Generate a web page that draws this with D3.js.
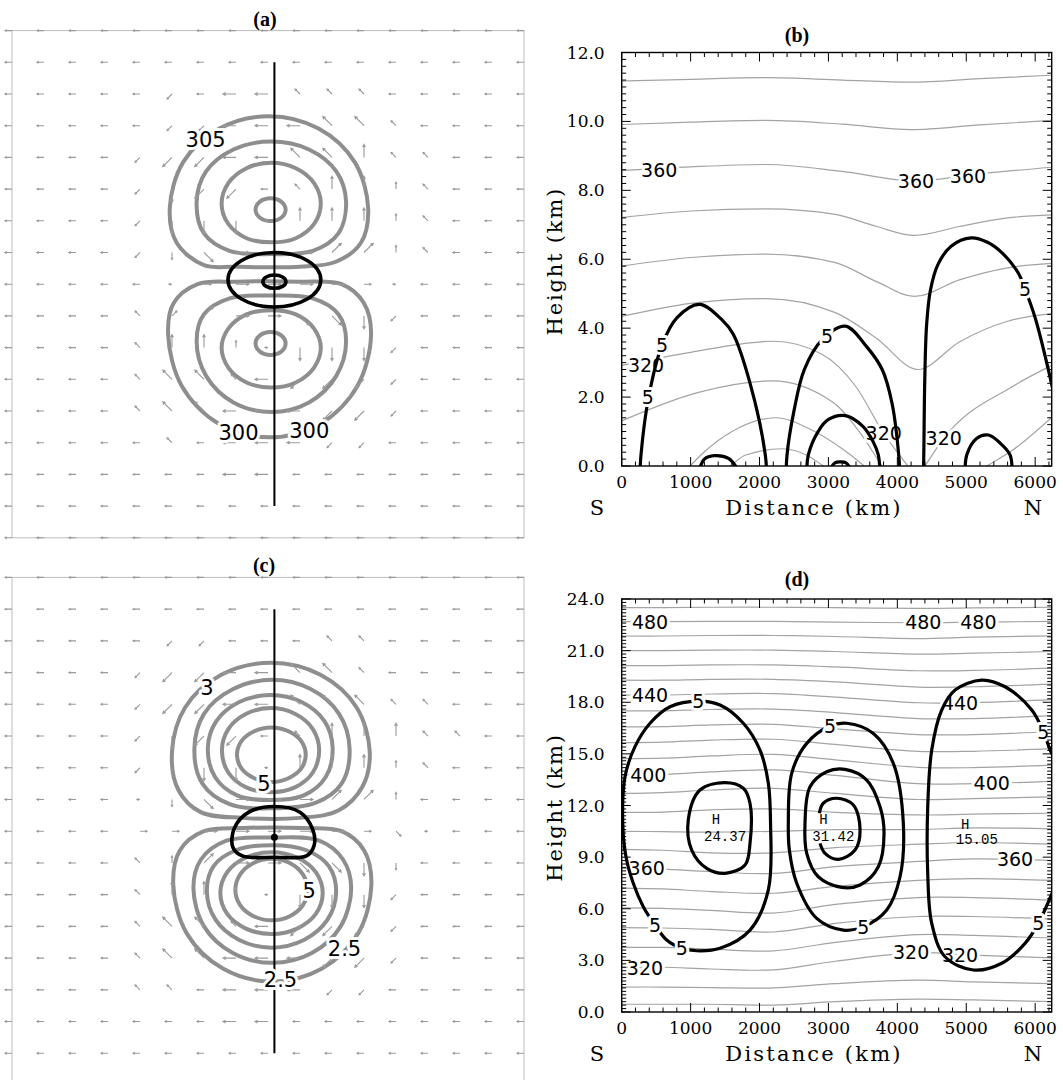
<!DOCTYPE html>
<html>
<head>
<meta charset="utf-8">
<script src="https://cdn.jsdelivr.net/npm/d3@7"></script>
<style>
  body { margin: 0; background: #fff; }
  svg { display: block; }
</style>
</head>
<body>
<svg id="fig" width="1063" height="1080"></svg>
<script>
(function () {
  'use strict';

  // ---------- plan views (a), (c): grid units, 16 x 16 cells ----------
  const aGray = [
    [[4.93,5.6],[5.35,4.15],[6.48,3.09],[8.03,2.7],[9.58,3.09],[10.71,4.15],[11.13,5.6],[10.9,6.7],[10.1,7.3],[9.0,7.45],[7.0,7.45],[6.0,7.4],[5.15,6.7]],
    [[5.77,5.4],[6.06,4.45],[6.92,3.75],[8.1,3.5],[9.28,3.75],[10.14,4.45],[10.44,5.4],[10.2,6.4],[9.4,6.95],[8.1,7.05],[6.8,6.95],[6.0,6.4]],
    [[6.55,5.45],[6.76,4.81],[7.33,4.34],[8.1,4.17],[8.87,4.34],[9.44,4.81],[9.65,5.45],[9.44,6.1],[8.87,6.55],[8.1,6.68],[7.33,6.55],[6.76,6.1]],
    [[11.22,9.6],[10.8,11.2],[9.64,12.4],[8.05,12.83],[6.46,12.4],[5.3,11.2],[4.88,9.6],[5.05,8.6],[5.8,8.0],[7.0,7.92],[9.0,7.92],[10.3,8.0],[11.0,8.6]],
    [[10.44,9.8],[10.13,10.9],[9.28,11.73],[8.1,12.03],[6.92,11.73],[6.07,10.9],[5.77,9.8],[6.0,8.95],[6.8,8.45],[8.1,8.36],[9.4,8.45],[10.2,8.95]],
    [[9.65,10.0],[9.44,10.63],[8.87,11.1],[8.1,11.26],[7.33,11.1],[6.76,10.63],[6.55,10.0],[6.76,9.4],[7.33,8.95],[8.1,8.82],[8.87,8.95],[9.44,9.4]]
  ];
  const aGrayEll = [[8.08,5.65,0.47,0.36],[8.08,9.87,0.47,0.36]];
  const aBlackEll = [[8.2,7.86,1.45,0.86],[8.2,7.92,0.36,0.21]];
  const aLabels = [['305',6.05,3.45],['300',7.08,12.69],['300',9.29,12.63]];
  const aVec = [
    'aaaaaaaaaaaaaaaaa',
    'aaaaaaaaaaaaaaaaa',
    'aaaaahaAAbbbaaaaa',
    'aaaaahhAAABBbaaaa',
    'aaaahHHAABBCbbaaa',
    'aaaahGHHabCCcbaaa',
    'aaaahGGG.CCCcbaaa',
    'aaaahgFEEEDDcbaaa',
    'aaaaa.eEEEEe.aaaa',
    'aaaabdDEEFFGhaaaa',
    'aaaabCCc.GGGhaaaa',
    'aaaabBBbAHHHhaaaa',
    'aaaabBBAAAHHhaaaa',
    'aaaaabaAAAhhaaaaa',
    'aaaaaaaAAaaaaaaaa',
    'aaaaaaaaaaaaaaaaa',
    'aaaaaaaaaaaaaaaaa'
  ];

  const cGray = [
    [[5.0,5.5],[5.41,4.1],[6.54,3.07],[8.09,2.69],[9.64,3.07],[10.77,4.1],[11.18,5.5],[10.95,6.6],[10.2,7.35],[9.0,7.58],[7.2,7.58],[5.9,7.4],[5.2,6.7]],
    [[5.7,5.4],[6.0,4.3],[6.91,3.52],[8.12,3.23],[9.33,3.52],[10.22,4.3],[10.55,5.4],[10.3,6.5],[9.5,7.1],[8.12,7.28],[6.8,7.15],[5.95,6.5]],
    [[6.12,5.37],[6.38,4.54],[7.1,3.93],[8.07,3.71],[9.05,3.93],[9.77,4.54],[10.02,5.37],[9.8,6.3],[9.1,6.88],[8.07,7.02],[7.05,6.88],[6.35,6.3]],
    [[6.56,5.45],[6.76,4.78],[7.32,4.3],[8.08,4.12],[8.84,4.3],[9.4,4.78],[9.6,5.45],[9.4,6.15],[8.84,6.62],[8.08,6.77],[7.32,6.62],[6.76,6.15]],
    [[7.03,5.59],[7.17,5.16],[7.57,4.85],[8.1,4.73],[8.64,4.85],[9.04,5.16],[9.18,5.59],[9.04,6.02],[8.64,6.33],[8.1,6.45],[7.57,6.33],[7.17,6.02]],
    [[11.23,9.7],[10.82,11.22],[9.69,12.33],[8.14,12.74],[6.59,12.33],[5.46,11.22],[5.04,9.7],[5.25,8.6],[6.0,8.0],[7.2,7.9],[9.1,7.9],[10.3,8.0],[11.0,8.6]],
    [[10.6,9.8],[10.27,11.0],[9.37,11.84],[8.13,12.15],[6.9,11.84],[6.0,11.0],[5.67,9.8],[5.9,8.9],[6.7,8.3],[8.13,8.2],[9.6,8.3],[10.35,8.9]],
    [[10.13,9.9],[9.86,10.79],[9.12,11.43],[8.11,11.67],[7.1,11.43],[6.36,10.79],[6.09,9.9],[6.3,9.1],[7.0,8.6],[8.11,8.44],[9.2,8.6],[9.9,9.1]],
    [[9.71,9.95],[9.5,10.6],[8.91,11.07],[8.11,11.24],[7.31,11.07],[6.72,10.6],[6.51,9.95],[6.72,9.3],[7.31,8.83],[8.11,8.66],[8.91,8.83],[9.5,9.3]],
    [[9.24,9.84],[9.09,10.33],[8.68,10.68],[8.11,10.81],[7.55,10.68],[7.13,10.33],[6.98,9.84],[7.13,9.36],[7.55,9.0],[8.11,8.87],[8.68,9.0],[9.09,9.36]]
  ];
  const cBlack = [
    [[6.9,8.5],[6.95,7.9],[7.4,7.4],[8.2,7.22],[9.0,7.4],[9.4,7.95],[9.44,8.45],[9.2,8.78],[8.2,8.82],[7.2,8.78]]
  ];
  const cDot = [8.2, 8.19];
  const cLabels = [['3',6.09,3.5],['5',7.87,6.5],['5',9.29,9.89],['2.5',10.39,11.72],['2.5',8.39,12.69]];
  const cVec = [
    'aaaaaaaaaaaaaaaaa',
    'aaaaaaaaaaaaaaaaa',
    'aaaaahhaaabbaaaaa',
    'aaaahHHAABBbaaaaa',
    'aaaahHHAABBBbbaaa',
    'aaaahGHHabCCCbbaa',
    'aaaahgGG.CCCcbaaa',
    'aaaa.gFEEEDDcaaaa',
    'aaaaeeEEEEEef.aaa',
    'aaaabcDEEFFGgaaaa',
    'aaaabCCc.GGGhaaaa',
    'aaaabBBbAHHHhaaaa',
    'aaaabBBAAAHHhaaaa',
    'aaaabbaAAAhhaaaaa',
    'aaaaaaaAAaaaaaaaa',
    'aaaaaaaaaaaaaaaaa',
    'aaaaaaaaaaaaaaaaa'
  ];

  // ---------- cross sections (b), (d): x in km, heights in km ----------
  const xTicks = [0, 1000, 2000, 3000, 4000, 5000, 6000];

  const bTheta = [380, 370, 360, 350, 340, 330, 320, 310, 300, 290];
  const bIsen = [
    [[0,11.17],[1000,11.22],[2100,11.27],[3200,11.2],[4200,11.14],[5200,11.24],[6240,11.34]],
    [[0,9.91],[1000,9.98],[2100,10.03],[3200,9.92],[4200,9.76],[5200,9.9],[6240,10.03]],
    [[0,8.57],[1000,8.68],[2100,8.75],[3200,8.55],[4250,8.27],[5200,8.48],[6240,8.67]],
    [[0,7.21],[1000,7.4],[2100,7.46],[3100,7.3],[3700,6.95],[4250,6.69],[4900,6.95],[5600,7.2],[6240,7.29]],
    [[0,5.8],[1000,6.05],[2100,6.15],[3100,5.9],[3700,5.35],[4250,4.92],[4900,5.4],[5600,5.75],[6240,5.88]],
    [[0,4.34],[1000,4.72],[2100,4.86],[3100,4.45],[3700,3.7],[4300,2.8],[4900,3.6],[5600,4.2],[6240,4.42]],
    [[0,2.92],[1000,3.3],[2200,3.62],[2900,3.25],[3400,2.3],[3800,0.95],[4150,0],[4280,-0.35],[4400,0],[4673,0.8],[5665,2.3],[6240,2.92]],
    [[0,1.31],[1100,2.13],[2180,2.47],[3070,1.84],[3500,0.85],[3780,0],[4500,-1.2],[5300,0],[5665,0.45],[6240,1.41]],
    [[700,-0.5],[990,0],[1150,0.32],[1600,1.0],[2230,1.4],[2800,1.0],[3200,0.5],[3520,0],[3800,-0.5]],
    [[1300,-0.3],[1570,0],[1800,0.32],[2330,0.5],[2700,0.3],[2930,0],[3200,-0.3]]
  ];
  const bGrayLabels = [['360',545,8.6],['360',4270,8.27],['360',5025,8.42],['320',353,2.92],['320',3802,0.95],['320',4673,0.8]];
  const bBlack = [
    [[262,-0.4],[280,0.32],[392,2.01],[585,3.51],[800,4.3],[1130,4.69],[1456,4.24],[1617,3.83],[1860,2.42],[2084,0.32],[2105,-0.4]],
    [[2385,-0.4],[2399,0.32],[2500,1.6],[2650,2.8],[2907,3.66],[3245,4.06],[3560,3.45],[3780,2.8],[3923,1.82],[4020,0.32],[4040,-0.4]],
    [[4378,-0.4],[4385,0.5],[4398,2.5],[4425,4.1],[4480,5.1],[4590,5.85],[4780,6.38],[5073,6.62],[5300,6.5],[5512,6.2],[5755,5.6],[5852,5.14],[6000,4.3],[6240,2.37],[6320,1.6]],
    [[2685,-0.3],[2708,0.32],[2850,1.0],[3000,1.35],[3245,1.46],[3500,1.15],[3650,0.7],[3724,0.32],[3750,-0.3]],
    [[4985,-0.2],[5007,0.32],[5150,0.8],[5321,0.9],[5500,0.65],[5636,0.32],[5665,-0.2]],
    [[1120,-0.15],[1200,0.2],[1349,0.3],[1550,0.22],[1700,-0.15]],
    [[3020,-0.1],[3100,0.1],[3175,0.12],[3250,0.1],[3330,-0.1]]
  ];
  const bBlackLabels = [['5',585,3.51],['5',380,1.99],['5',2980,3.77],['5',5852,5.14]];

  const dKnots = [0, 600, 1300, 2200, 3100, 4300, 5100, 6240];
  const dTheta = [304,312,320,328,336,344,352,360,368,376,384,392,400,408,416,424,432,440,448,456,464,472,480,488];
  const dIsen = [
    [0.45,0.45,0.45,0.4,0.6,0.75,0.7,0.6],
    [1.45,1.45,1.42,1.4,1.65,1.85,1.75,1.65],
    [2.6,2.6,2.5,2.45,2.95,3.45,3.3,3.15],
    [3.75,3.75,3.65,3.55,4.05,4.5,4.45,4.3],
    [4.9,4.88,4.8,4.65,5.15,5.55,5.55,5.4],
    [6.05,6.02,5.9,5.75,6.25,6.65,6.65,6.5],
    [7.2,7.15,7.0,6.9,7.3,7.65,7.75,7.65],
    [8.35,8.3,8.15,8.05,8.45,8.75,8.9,8.8],
    [9.45,9.4,9.25,9.25,9.55,9.75,9.85,9.75],
    [10.5,10.48,10.45,10.5,10.6,10.6,10.7,10.65],
    [11.6,11.62,11.75,11.8,11.6,11.45,11.5,11.55],
    [12.7,12.75,12.9,13.0,12.7,12.35,12.4,12.5],
    [13.77,13.8,13.95,14.07,13.75,13.27,13.27,13.4],
    [14.72,14.75,14.88,14.97,14.65,14.22,14.2,14.35],
    [15.65,15.68,15.8,15.85,15.55,15.15,15.15,15.3],
    [16.57,16.58,16.68,16.72,16.45,16.12,16.12,16.3],
    [17.5,17.5,17.58,17.6,17.4,17.05,17.05,17.22],
    [18.42,18.42,18.48,18.5,18.3,17.97,17.98,18.15],
    [19.28,19.28,19.33,19.33,19.18,18.88,18.9,19.05],
    [20.13,20.13,20.17,20.17,20.05,19.83,19.85,19.98],
    [21.0,21.0,21.03,21.03,20.95,20.8,20.85,20.95],
    [21.85,21.85,21.88,21.88,21.82,21.7,21.78,21.86],
    [22.68,22.68,22.7,22.7,22.66,22.62,22.65,22.7],
    [23.5,23.5,23.52,23.52,23.5,23.45,23.48,23.52]
  ];
  const dGrayLabels = [
    ['480',411,22.68],['480',4377,22.68],['480',5176,22.68],
    ['440',411,18.42],['440',4910,17.94],
    ['400',386,13.77],['400',5370,13.29],
    ['360',363,8.35],['360',5708,8.87],
    ['320',338,2.54],['320',4200,3.5],['320',4910,3.31]
  ];
  const dBlackClosed = [
    [[15,10.96],[48,13.67],[193,15.42],[411,16.78],[701,17.74],[1112,18.07],[1427,17.84],[1765,16.78],[2007,15.22],[2128,13.29],[2160,10.96],[2128,7.1],[1862,4.76],[1427,3.7],[1088,3.56],[871,3.7],[653,4.18],[483,5.06],[313,6.12],[168,7.48],[62,9.02]],
    [[966,11.16],[1136,12.9],[1500,13.33],[1765,13.0],[1862,12.13],[1862,9.8],[1790,8.54],[1500,8.06],[1234,8.35],[1016,9.41]],
    [[2418,10.96],[2467,13.87],[2685,15.61],[3023,16.62],[3266,16.78],[3652,16.19],[3942,14.45],[4087,10.96],[4039,7.86],[3846,5.93],[3507,4.96],[3216,4.76],[2830,5.44],[2540,7.48],[2433,9.41]],
    [[2660,10.96],[2733,13.09],[2975,13.96],[3241,14.1],[3556,13.48],[3749,11.93],[3807,10.38],[3724,8.44],[3459,7.38],[3193,7.24],[2853,7.86],[2685,9.22]]
  ];
  const dBlackOpen = [
    [[2868,11.55],[2926,12.13],[3120,12.42],[3362,12.03],[3459,10.58],[3386,9.41],[3144,8.87],[2951,9.22],[2878,9.8]],
    [[6380,14.2],[6240,15.03],[6119,16.29],[5951,17.55],[5563,18.9],[5225,19.29],[4838,18.71],[4644,17.55],[4499,15.22],[4441,11.93],[4441,8.06],[4499,5.15],[4692,3.21],[5103,2.44],[5515,2.83],[5853,3.99],[6046,5.15],[6264,7.09],[6380,8.3]]
  ];
  const dBlackLabels = [['5',1112,18.07],['5',483,5.06],['5',871,3.7],['5',3023,16.62],['5',3507,4.96],['5',6119,16.29],['5',6046,5.15]];
  const dHighs = [['24.37',1369,11.16,1500,10.19],['31.42',2926,11.16,3071,10.19],['15.05',4983,10.87,5153,9.99]];

  // ---------- drawing ----------
  const svg = d3.select('#fig');
  svg.append('rect').attr('width', 1063).attr('height', 1080).attr('fill', '#fff');

  const SANS = 'DejaVu Sans, sans-serif';
  const SERIF = 'DejaVu Serif, serif';
  const DIR = { a: 180, b: 135, c: 90, d: 45, e: 0, f: -45, g: -90, h: -135 };

  function halo(sel, size, family) {
    return sel.attr('text-anchor', 'middle').attr('dominant-baseline', 'central')
      .attr('font-family', family).attr('font-size', size)
      .attr('stroke', '#fff').attr('stroke-width', 6).attr('paint-order', 'stroke')
      .attr('stroke-linejoin', 'round').attr('fill', '#000');
  }

  function title(txt, x, y) {
    svg.append('text').attr('x', x).attr('y', y)
      .attr('text-anchor', 'middle').attr('dominant-baseline', 'central')
      .attr('font-family', 'Liberation Serif, serif').attr('font-weight', 'bold')
      .attr('font-size', 20).text(txt);
  }

  function drawPlan(cfg) {
    const x = d3.scaleLinear().domain([0, 16]).range([12, 524]);
    const y = d3.scaleLinear().domain([0, 16]).range(cfg.yRange);
    const g = svg.append('g');

    g.append('rect').attr('x', x(0)).attr('y', y(0))
      .attr('width', x(16) - x(0)).attr('height', y(16) - y(0))
      .attr('fill', 'none').attr('stroke', '#bdbdbd').attr('stroke-width', 1);

    const ring = d3.line().x(d => x(d[0])).y(d => y(d[1]))
      .curve(d3.curveCatmullRomClosed.alpha(0.5));

    g.selectAll('path.gc').data(cfg.gray).join('path').attr('class', 'gc')
      .attr('d', ring).attr('fill', 'none').attr('stroke', '#8e8e8e').attr('stroke-width', 4);
    g.selectAll('ellipse.gc').data(cfg.grayEll || []).join('ellipse').attr('class', 'gc')
      .attr('cx', d => x(d[0])).attr('cy', d => y(d[1]))
      .attr('rx', d => x(d[2]) - x(0)).attr('ry', d => y(d[3]) - y(0))
      .attr('fill', 'none').attr('stroke', '#8e8e8e').attr('stroke-width', 4);

    // wind vectors: tail at grid node
    const arrows = [];
    cfg.vec.forEach((row, j) => row.split('').forEach((c, i) => arrows.push({ i, j, c })));
    g.selectAll('path.vec').data(arrows).join('path').attr('class', 'vec')
      .attr('d', d => {
        const x0 = x(d.i), y0 = y(d.j);
        const key = d.c === '.' ? 'a' : d.c.toLowerCase();
        const big = d.c !== '.' && d.c === d.c.toUpperCase();
        const len = d.c === '.' ? 3 : (big ? 13 : 7);
        const t = DIR[key] * Math.PI / 180;
        const x1 = x0 + len * Math.cos(t), y1 = y0 - len * Math.sin(t);
        const hl = big ? 3 : 2;
        const b1 = t + Math.PI - 0.5, b2 = t + Math.PI + 0.5;
        return `M${x0},${y0}L${x1},${y1}M${x1 + hl * Math.cos(b1)},${y1 - hl * Math.sin(b1)}L${x1},${y1}L${x1 + hl * Math.cos(b2)},${y1 - hl * Math.sin(b2)}`;
      })
      .attr('fill', 'none').attr('stroke', '#9a9a9a').attr('stroke-width', 1.1);

    g.selectAll('path.bc').data(cfg.black || []).join('path').attr('class', 'bc')
      .attr('d', ring).attr('fill', 'none').attr('stroke', '#000').attr('stroke-width', 3.6);
    g.selectAll('ellipse.bc').data(cfg.blackEll || []).join('ellipse').attr('class', 'bc')
      .attr('cx', d => x(d[0])).attr('cy', d => y(d[1]))
      .attr('rx', d => x(d[2]) - x(0)).attr('ry', d => y(d[3]) - y(0))
      .attr('fill', 'none').attr('stroke', '#000').attr('stroke-width', 3.6);

    g.append('line').attr('x1', x(8.2)).attr('x2', x(8.2)).attr('y1', y(1)).attr('y2', y(15))
      .attr('stroke', '#000').attr('stroke-width', 2);
    if (cfg.dot) {
      g.append('circle').attr('cx', x(cfg.dot[0])).attr('cy', y(cfg.dot[1])).attr('r', 3.5).attr('fill', '#000');
    }

    g.selectAll('text.lab').data(cfg.labels).join('text').attr('class', 'lab')
      .attr('x', d => x(d[1])).attr('y', d => y(d[2])).text(d => d[0])
      .call(halo, 21, SANS);
  }

  function drawSection(cfg) {
    const x = d3.scaleLinear().domain([0, 6240]).range([621.7, 1051.7]);
    const y = d3.scaleLinear().domain([0, cfg.yMax]).range([cfg.bottom, cfg.top]);
    const g = svg.append('g');
    const clipId = 'clip' + cfg.name;
    svg.append('clipPath').attr('id', clipId).append('rect')
      .attr('x', x(0)).attr('y', y(cfg.yMax)).attr('width', x(6240) - x(0)).attr('height', y(0) - y(cfg.yMax));
    const inner = g.append('g').attr('clip-path', `url(#${clipId})`);

    const smooth = d3.line().x(d => x(d[0])).y(d => y(d[1])).curve(d3.curveCatmullRom.alpha(0.5));
    const mono = d3.line().x(d => x(d[0])).y(d => y(d[1])).curve(d3.curveMonotoneX);
    const closed = d3.line().x(d => x(d[0])).y(d => y(d[1])).curve(d3.curveCatmullRomClosed.alpha(0.5));

    inner.selectAll('path.iso').data(cfg.iso).join('path').attr('class', 'iso')
      .attr('d', cfg.isoCurve === 'mono' ? mono : smooth)
      .attr('fill', 'none').attr('stroke', '#a3a3a3').attr('stroke-width', 1.2);
    inner.selectAll('text.gl').data(cfg.grayLabels).join('text').attr('class', 'gl')
      .attr('x', d => x(d[1])).attr('y', d => y(d[2])).text(d => d[0])
      .call(halo, 19, SANS);

    inner.selectAll('path.bo').data(cfg.blackOpen || []).join('path').attr('class', 'bo')
      .attr('d', smooth)
      .attr('fill', 'none').attr('stroke', '#000').attr('stroke-width', 3.2);
    inner.selectAll('path.bcl').data(cfg.blackClosed || []).join('path').attr('class', 'bcl')
      .attr('d', closed).attr('fill', 'none').attr('stroke', '#000').attr('stroke-width', 3.2);
    inner.selectAll('text.bl').data(cfg.blackLabels).join('text').attr('class', 'bl')
      .attr('x', d => x(d[1])).attr('y', d => y(d[2])).text(d => d[0])
      .call(halo, 19, SANS);

    (cfg.highs || []).forEach(h => {
      inner.append('text').attr('x', x(h[1])).attr('y', y(h[2])).text('H')
        .attr('text-anchor', 'middle').attr('dominant-baseline', 'central')
        .attr('font-family', 'Liberation Mono, monospace').attr('font-size', 14);
      inner.append('text').attr('x', x(h[3])).attr('y', y(h[4])).text(h[0])
        .attr('text-anchor', 'middle').attr('dominant-baseline', 'central')
        .attr('font-family', 'Liberation Mono, monospace').attr('font-size', 14);
    });

    // frame and inward ticks on all sides
    g.append('rect').attr('x', x(0)).attr('y', y(cfg.yMax))
      .attr('width', x(6240) - x(0)).attr('height', y(0) - y(cfg.yMax))
      .attr('fill', 'none').attr('stroke', '#000').attr('stroke-width', 1.4);
    const xMinor = d3.range(0, 6240, 200).filter(v => v % 1000 !== 0);
    const yMinor = d3.range(0, cfg.yMax + 1e-6, cfg.yMinor).filter(v => Math.abs(v / cfg.yStep - Math.round(v / cfg.yStep)) > 1e-6);
    const ticks = [];
    xTicks.forEach(v => ticks.push(['x', v, 9]));
    xMinor.forEach(v => ticks.push(['x', v, 4.5]));
    cfg.yTicks.forEach(v => ticks.push(['y', v, 9]));
    yMinor.forEach(v => ticks.push(['y', v, 4.5]));
    const tp = [];
    ticks.forEach(t => {
      if (t[0] === 'x') {
        const px = x(t[1]);
        tp.push(`M${px},${y(0)}v${-t[2]}M${px},${y(cfg.yMax)}v${t[2]}`);
      } else {
        const py = y(t[1]);
        tp.push(`M${x(0)},${py}h${t[2]}M${x(6240)},${py}h${-t[2]}`);
      }
    });
    g.append('path').attr('d', tp.join('')).attr('stroke', '#000').attr('stroke-width', 1).attr('fill', 'none');

    g.selectAll('text.xt').data(xTicks).join('text').attr('class', 'xt')
      .attr('x', d => x(d)).attr('y', y(0) + 22).attr('text-anchor', 'middle')
      .attr('font-family', SERIF).attr('font-size', 17).text(d => d);
    g.selectAll('text.yt').data(cfg.yTicks).join('text').attr('class', 'yt')
      .attr('x', x(0) - 17).attr('y', d => y(d)).attr('text-anchor', 'end')
      .attr('dominant-baseline', 'central')
      .attr('font-family', SERIF).attr('font-size', 17).text(d => d3.format('.1f')(d));

    const base = y(0) + 49;
    g.append('text').attr('x', 597).attr('y', base).attr('text-anchor', 'middle')
      .attr('font-family', SERIF).attr('font-size', 21).text('S');
    g.append('text').attr('x', 1033).attr('y', base).attr('text-anchor', 'middle')
      .attr('font-family', SERIF).attr('font-size', 21).text('N');
    g.append('text').attr('x', 814).attr('y', base).attr('text-anchor', 'middle')
      .attr('font-family', SERIF).attr('font-size', 21).attr('letter-spacing', 2.2).text('Distance (km)');
    const cy = (y(0) + y(cfg.yMax)) / 2 + 2;
    g.append('text').attr('transform', `translate(555,${cy}) rotate(-90)`)
      .attr('text-anchor', 'middle').attr('dominant-baseline', 'central')
      .attr('font-family', SERIF).attr('font-size', 21).attr('letter-spacing', 1.8).text('Height (km)');
  }

  drawPlan({ yRange: [30.6, 537.8], gray: aGray, grayEll: aGrayEll, blackEll: aBlackEll, vec: aVec, labels: aLabels });
  drawPlan({ yRange: [577.4, 1085], gray: cGray, black: cBlack, dot: cDot, vec: cVec, labels: cLabels });

  drawSection({
    name: 'b', yMax: 12, top: 52.5, bottom: 466, yTicks: [0, 2, 4, 6, 8, 10, 12], yStep: 2, yMinor: 0.2,
    iso: bIsen, isoCurve: 'mono', grayLabels: bGrayLabels,
    blackOpen: bBlack, blackLabels: bBlackLabels
  });
  drawSection({
    name: 'd', yMax: 24, top: 599, bottom: 1012, yTicks: [0, 3, 6, 9, 12, 15, 18, 21, 24], yStep: 3, yMinor: 0.2,
    iso: dIsen.map(row => row.map((h, k) => [dKnots[k], h])), grayLabels: dGrayLabels,
    blackOpen: dBlackOpen, blackClosed: dBlackClosed, blackLabels: dBlackLabels, highs: dHighs
  });

  title('(a)', 265, 19);
  title('(b)', 797, 35);
  title('(c)', 264, 565);
  title('(d)', 797, 579);
})();
</script>
</body>
</html>
